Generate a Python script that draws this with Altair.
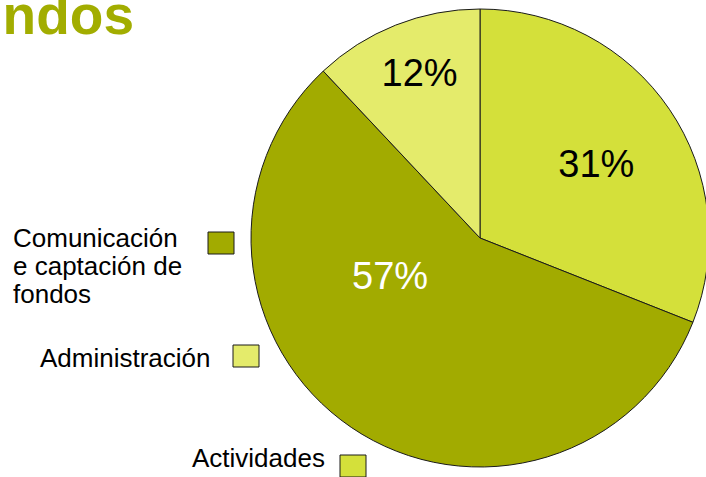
import altair as alt
import pandas as pd

# ---- data ----
categories = ["Actividades", "Comunicación e captación de fondos", "Administración"]
values = [31, 57, 12]
pct_labels = ["31%", "57%", "12%"]
colors = ["#d4e03a", "#a2ab00", "#e4eb6b"]
legend_text = ["Actividades", "Comunicación\ne captación de\nfondos", "Administración"]
title_text = "ndos"

# ---- layout (pixels) ----
CX, CY, R = 480, 238, 229
legend_text_x = [192, 13, 40]
legend_text_y = [467, 247, 367]
legend_sq_x = [340, 208, 233]
legend_sq_y = [455, 232, 345]
SQ_W, SQ_H = 26, 22

df = pd.DataFrame({
    "cat": categories,
    "value": values,
    "label": pct_labels,
    "order": [0, 1, 2],
})
leg = pd.DataFrame({
    "cat": categories,
    "text": legend_text,
    "tx": legend_text_x,
    "ty": legend_text_y,
    "sx": legend_sq_x,
    "sy": legend_sq_y,
})
leg["sx2"] = leg["sx"] + SQ_W
leg["sy2"] = leg["sy"] + SQ_H

color_scale = alt.Scale(domain=categories, range=colors)

base = alt.Chart(df).encode(
    theta=alt.Theta("value:Q", stack=True),
    order=alt.Order("order:Q"),
)

pie = base.mark_arc(radius=R, stroke="#1a1a1a", strokeWidth=1).encode(
    color=alt.Color("cat:N", scale=color_scale, legend=None),
    x=alt.value(CX),
    y=alt.value(CY),
)

def label_layer(cat, radius, dx, dy, color):
    return base.mark_text(
        radius=radius, dx=dx, dy=dy, fontSize=38, font="Liberation Sans",
        baseline="alphabetic", align="center", color=color,
    ).encode(
        text=alt.condition(alt.datum.cat == cat, alt.Text("label:N"), alt.value("")),
        x=alt.value(CX), y=alt.value(CY),
    )

lab1 = label_layer(categories[0], 131, 8, 13, "#000000")
lab2 = label_layer(categories[1], 103, -32, -34, "#ffffff")
lab3 = label_layer(categories[2], 164, 0, 0, "#000000")

leg_base = alt.Chart(leg)
leg_sq = leg_base.mark_rect(stroke="#1a1a1a", strokeWidth=1).encode(
    x=alt.X("sx:Q", scale=None),
    x2="sx2:Q",
    y=alt.Y("sy:Q", scale=None),
    y2="sy2:Q",
    color=alt.Color("cat:N", scale=color_scale, legend=None),
)
leg_txt = leg_base.mark_text(
    align="left", baseline="alphabetic", fontSize=26, font="Liberation Sans",
    lineBreak="\n", lineHeight=28, color="#000000",
).encode(
    x=alt.X("tx:Q", scale=None),
    y=alt.Y("ty:Q", scale=None),
    text="text:N",
)

title = alt.Chart(pd.DataFrame({"t": [title_text]})).mark_text(
    align="right", baseline="alphabetic", fontSize=55, fontWeight="bold",
    font="Liberation Sans", color="#a2ad00",
).encode(x=alt.value(134), y=alt.value(34), text="t:N")

chart = alt.layer(pie, lab1, lab2, lab3, leg_sq, leg_txt, title).properties(
    width=706, height=477, padding=0, autosize=alt.AutoSizeParams(type="none"),
    background="#ffffff",
).configure_view(stroke=None)

chart.save("out.html", embed_options={"renderer": "svg", "actions": False})
